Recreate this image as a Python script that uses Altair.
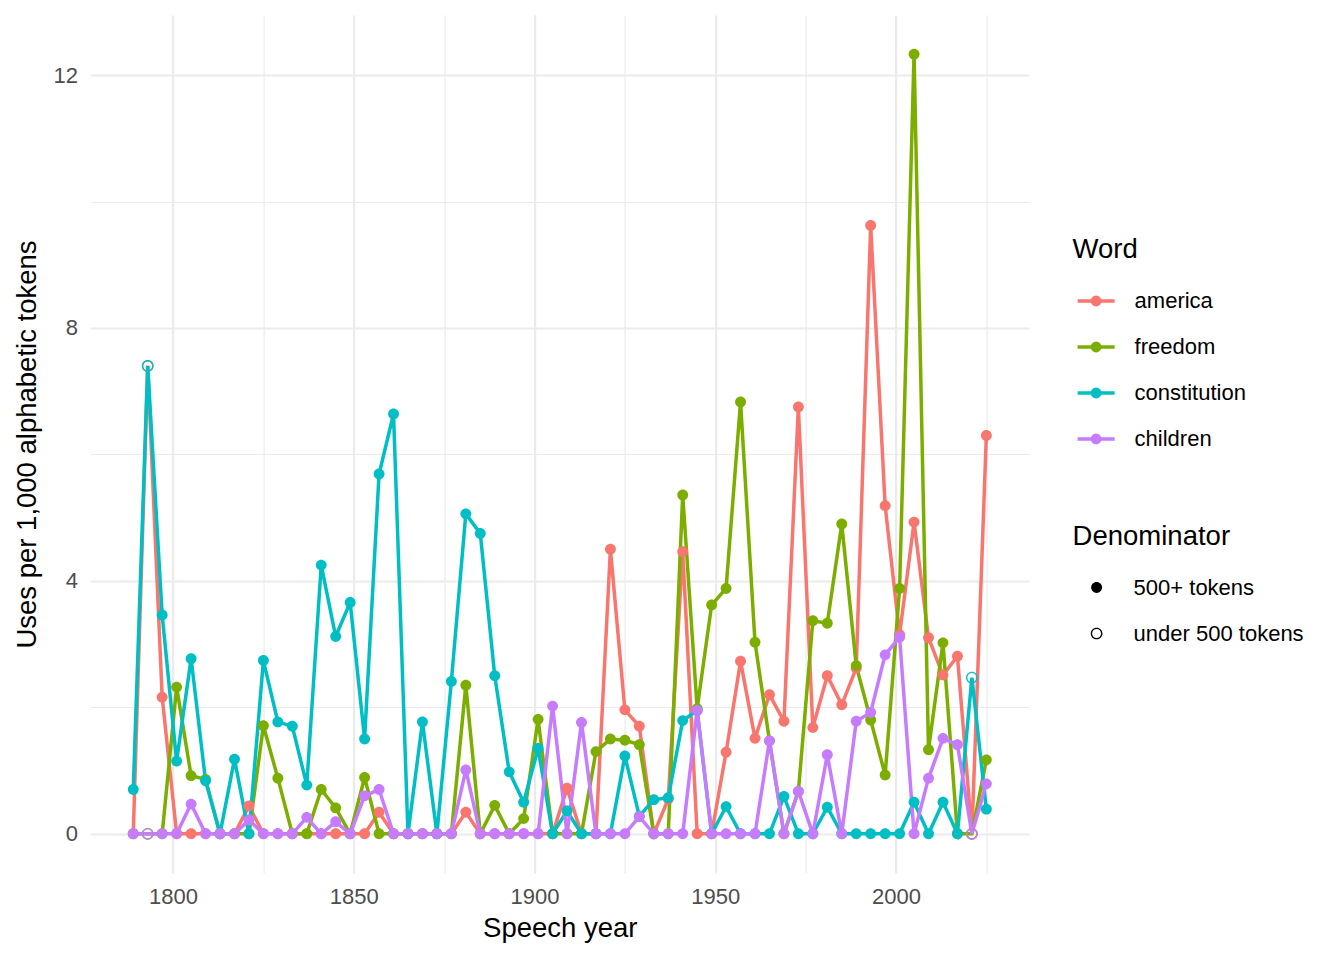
import altair as alt
import pandas as pd

# Inaugural-speech years shown on the x axis
years = [1789, 1793, 1797, 1801, 1805, 1809, 1813, 1817, 1821, 1825,
         1829, 1833, 1837, 1841, 1845, 1849, 1853, 1857, 1861, 1865,
         1869, 1873, 1877, 1881, 1885, 1889, 1893, 1897, 1901, 1905,
         1909, 1913, 1917, 1921, 1925, 1929, 1933, 1937, 1941, 1945,
         1949, 1953, 1957, 1961, 1965, 1969, 1973, 1977, 1981, 1985,
         1989, 1993, 1997, 2001, 2005, 2009, 2013, 2017, 2021, 2025]

# Uses per 1,000 alphabetic tokens
america = [0, 7.40, 2.16, 0, 0, 0, 0, 0, 0.44, 0,
           0, 0, 0, 0, 0, 0, 0, 0.34, 0, 0,
           0, 0, 0, 0.34, 0, 0, 0, 0, 0, 0,
           0.72, 0, 0, 4.50, 1.96, 1.70, 0, 0.55, 4.46, 0,
           0, 1.29, 2.73, 1.51, 2.20, 1.78, 6.75, 1.68, 2.50, 2.04,
           2.62, 9.62, 5.19, 3.15, 4.93, 3.10, 2.51, 2.81, 0, 6.30]

freedom = [0, 0, 0, 2.32, 0.92, 0.86, 0, 0, 0, 1.71,
           0.88, 0, 0, 0.70, 0.41, 0, 0.89, 0, 0, 0,
           0, 0, 0, 2.35, 0, 0.45, 0, 0.24, 1.81, 0,
           0, 0, 1.30, 1.50, 1.48, 1.41, 0, 0, 5.36, 1.98,
           3.62, 3.88, 6.83, 3.03, 1.47, 0, 0.67, 3.37, 3.33, 4.90,
           2.66, 1.80, 0.93, 3.88, 12.33, 1.33, 3.02, 0, 0, 1.17]

constitution = [0.70, 7.40, 3.46, 1.15, 2.77, 0.84, 0, 1.18, 0, 2.74,
                1.77, 1.70, 0.77, 4.25, 3.12, 3.66, 1.50, 5.69, 6.64, 0,
                1.77, 0, 2.41, 5.06, 4.75, 2.50, 0.98, 0.50, 1.35, 0,
                0.36, 0, 0, 0, 1.23, 0.28, 0.54, 0.57, 1.79, 1.95,
                0, 0.43, 0, 0, 0, 0.59, 0, 0, 0.42, 0,
                0, 0, 0, 0, 0.50, 0, 0.50, 0, 2.47, 0.39]

children = [0, 0, 0, 0, 0.47, 0, 0, 0, 0.22, 0,
            0, 0, 0.26, 0, 0.19, 0, 0.60, 0.70, 0, 0,
            0, 0, 0, 1.01, 0, 0, 0, 0, 0, 2.02,
            0, 1.76, 0, 0, 0, 0.27, 0, 0, 0, 1.95,
            0, 0, 0, 0, 1.47, 0, 0.67, 0, 1.25, 0,
            1.78, 1.92, 2.83, 3.11, 0, 0.88, 1.51, 1.41, 0, 0.79]

# Speeches whose denominator is under 500 tokens (drawn as open circles)
short_years = [1793, 2021]

words = ["america", "freedom", "constitution", "children"]
word_colors = ["#F8766D", "#7CAE00", "#00BFC4", "#C77CFF"]
denominators = ["500+ tokens", "under 500 tokens"]

x_ticks = [1800, 1825, 1850, 1875, 1900, 1925, 1950, 1975, 2000, 2025]
y_ticks = [0, 2, 4, 6, 8, 10, 12]

font = "Liberation Sans"

rows = []
for word, values in zip(words, [america, freedom, constitution, children]):
    for year, value in zip(years, values):
        rows.append({
            "year": year,
            "rate": value,
            "word": word,
            "denominator": denominators[1] if year in short_years else denominators[0],
        })
df = pd.DataFrame(rows)

color_scale = alt.Scale(domain=words, range=word_colors)

# glyphs: a solid dot, and a ring (outer + reversed inner circle) for the open marker
dot_path = "M-0.93,0A0.93,0.93,0,1,1,0.93,0A0.93,0.93,0,1,1,-0.93,0Z"
ring_path = ("M-1,0A1,1,0,1,1,1,0A1,1,0,1,1,-1,0Z"
             "M-0.77,0A0.77,0.77,0,1,0,0.77,0A0.77,0.77,0,1,0,-0.77,0Z")
# legend key for the words: short line with a dot in the middle
key_path = "M-1,0L1,0M-0.2,0A0.2,0.2,0,1,0,0.2,0A0.2,0.2,0,1,0,-0.2,0Z"

x_enc = alt.X(
    "year:Q",
    scale=alt.Scale(domain=[1777.2, 2036.8], nice=False, zero=False),
    axis=alt.Axis(
        values=x_ticks,
        format="d",
        labelExpr="datum.value % 50 === 0 ? datum.label : ''",
        title="Speech year",
        labelPadding=13,
        titlePadding=7,
        gridWidth={"condition": {"test": "datum.value % 50 === 0", "value": 2.2}, "value": 1.2},
    ),
)
y_enc = alt.Y(
    "rate:Q",
    scale=alt.Scale(domain=[-0.62, 12.95], nice=False, zero=False),
    axis=alt.Axis(
        values=y_ticks,
        format="d",
        labelExpr="datum.value % 4 === 0 ? datum.label : ''",
        title="Uses per 1,000 alphabetic tokens",
        labelPadding=13,
        titlePadding=12,
        gridWidth={"condition": {"test": "datum.value % 4 === 0", "value": 2.2}, "value": 1.2},
    ),
)

base = alt.Chart(df)

lines = base.mark_line(strokeWidth=3.5).encode(
    x=x_enc,
    y=y_enc,
    color=alt.Color(
        "word:N",
        scale=color_scale,
        sort=words,
        legend=alt.Legend(
            title="Word",
            orient="none",
            legendX=982,
            legendY=221,
            symbolType=key_path,
            symbolSize=1369,
            symbolStrokeWidth=3.5,
            symbolOffset=3,
            labelOffset=18,
            rowPadding=14,
            titlePadding=17,
            padding=0,
            labelLimit=400,
        ),
    ),
    order="year:Q",
)

points = base.mark_point(size=137, filled=True, opacity=1).encode(
    x="year:Q",
    y="rate:Q",
    color=alt.Color("word:N", scale=color_scale),
    shape=alt.Shape(
        "denominator:N",
        scale=alt.Scale(domain=denominators, range=[dot_path, ring_path]),
        legend=alt.Legend(
            title="Denominator",
            orient="none",
            legendX=982,
            legendY=508,
            symbolSize=137,
            symbolStrokeWidth=0,
            symbolFillColor="black",
            symbolStrokeColor="black",
            symbolOffset=13,
            labelOffset=26,
            rowPadding=24,
            titlePadding=26,
            padding=0,
            labelLimit=400,
        ),
    ),
)

chart = alt.layer(lines, points).properties(
    width=938.4,
    height=858,
    autosize=alt.AutoSizeParams(type="none"),
    padding={"left": 82.6, "top": 7, "right": 300, "bottom": 78},
).configure_view(
    stroke=None,
).configure_axis(
    domain=False,
    ticks=False,
    tickSize=0,
    grid=True,
    gridColor="#EBEBEB",
    labelFont=font,
    labelFontSize=22,
    labelColor="#4D4D4D",
    labelOverlap=False,
    labelFlush=False,
    titleFont=font,
    titleFontSize=27.5,
    titleFontWeight="normal",
    titleColor="black",
).configure_legend(
    titleFont=font,
    titleFontSize=27.5,
    titleFontWeight="normal",
    titleColor="black",
    labelFont=font,
    labelFontSize=22,
    labelColor="black",
)

chart.save("out.html", embed_options={"renderer": "svg", "actions": False})
